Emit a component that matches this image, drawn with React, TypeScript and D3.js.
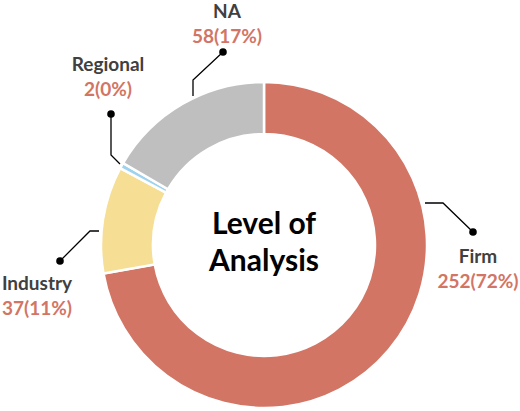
import React, { useEffect, useRef } from 'react';
import * as d3 from 'd3';

// slices, clockwise from 12 o'clock
const categories = ['Firm', 'Industry', 'Regional', 'NA'];
const counts = [252, 37, 2, 58];
const percentLabels = ['72%', '11%', '0%', '17%'];
const sliceColors = ['#D27565', '#F6DE95', '#9DD3F0', '#BFBFBF'];

// annotation layout: label centre + leader polyline (dot first)
const labelLayout = [
  { x: 478, y: 263, leader: [[473, 232], [443, 203], [425, 203]] },
  { x: 37, y: 290, leader: [[60, 261], [90, 231], [99, 231]] },
  { x: 108, y: 71, leader: [[111, 114], [111, 155], [120, 164]] },
  { x: 227, y: 18, leader: [[223, 52], [193, 80], [193, 96]] },
];

const WIDTH = 520;
const HEIGHT = 411;
const CX = 264;
const CY = 245;
const OUTER = 163;
const INNER = 111;
const FONT = 'Lato, "Open Sans", sans-serif';

const App = () => {
  const svgRef = useRef<SVGSVGElement | null>(null);

  useEffect(() => {
    if (!svgRef.current) return;
    const svg = d3.select(svgRef.current);
    svg.selectAll('*').remove();

    const data = categories.map((c, i) => ({ name: c, value: counts[i], pct: percentLabels[i], color: sliceColors[i] }));

    const pie = d3.pie<any>().value(d => d.value).sort(null).startAngle(0).endAngle(2 * Math.PI);
    const arc = d3.arc<any>().innerRadius(INNER).outerRadius(OUTER);

    const g = svg.append('g').attr('transform', `translate(${CX}, ${CY})`);
    g.selectAll('path')
      .data(pie(data))
      .enter()
      .append('path')
      .attr('d', arc)
      .attr('fill', d => d.data.color)
      .attr('stroke', '#ffffff')
      .attr('stroke-width', 2.5);

    // centre title
    const title = svg.append('text')
      .attr('text-anchor', 'middle')
      .attr('font-family', FONT)
      .attr('font-weight', 700)
      .attr('font-size', 30)
      .attr('fill', '#000');
    title.append('tspan').attr('x', CX).attr('y', 234).text('Level of');
    title.append('tspan').attr('x', CX).attr('y', 271).text('Analysis');

    // leaders and labels
    const line = d3.line();
    data.forEach((d, i) => {
      const lay = labelLayout[i];
      svg.append('path')
        .attr('d', line(lay.leader as [number, number][]))
        .attr('fill', 'none')
        .attr('stroke', '#000')
        .attr('stroke-width', 1.3);
      svg.append('circle')
        .attr('cx', lay.leader[0][0])
        .attr('cy', lay.leader[0][1])
        .attr('r', 3.8)
        .attr('fill', '#000');
      svg.append('text')
        .attr('x', lay.x)
        .attr('y', lay.y)
        .attr('text-anchor', 'middle')
        .attr('font-family', FONT)
        .attr('font-weight', 700)
        .attr('font-size', 19)
        .attr('fill', '#404040')
        .text(d.name);
      svg.append('text')
        .attr('x', lay.x)
        .attr('y', lay.y + 25)
        .attr('text-anchor', 'middle')
        .attr('font-family', FONT)
        .attr('font-weight', 700)
        .attr('font-size', 19)
        .attr('fill', '#D27565')
        .text(`${d.value}(${d.pct})`);
    });
  }, []);

  return (
    <svg
      ref={svgRef}
      width={WIDTH}
      height={HEIGHT}
      style={{ position: 'absolute', left: 0, top: 0, background: '#fff' }}
    />
  );
};

export default App;
